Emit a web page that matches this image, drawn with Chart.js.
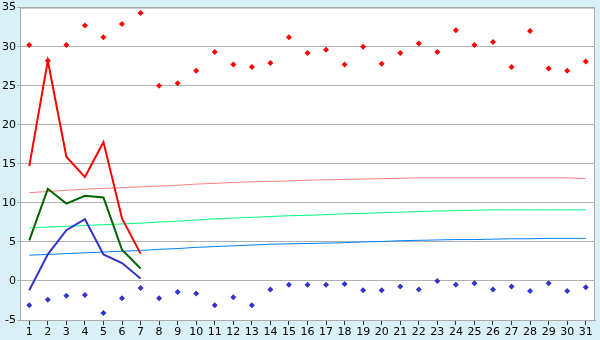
<!DOCTYPE html>
<html>
<head>
<meta charset="utf-8">
<script src="https://cdn.jsdelivr.net/npm/chart.js@4"></script>
<style>
  html, body { margin: 0; padding: 0; background: #d9f0f6; }
  #wrap { width: 600px; height: 340px; }
</style>
</head>
<body>
<div id="wrap"><canvas id="TempChart" width="600" height="340"></canvas></div>
<script>
var days = ['1','2','3','4','5','6','7','8','9','10','11','12','13','14','15','16','17','18','19','20','21','22','23','24','25','26','27','28','29','30','31'];

// daily extremes (points)
var maxPoints = [30.2, 28.2, 30.2, 32.7, 31.2, 32.9, 34.3, 25.0, 25.3, 26.9, 29.3, 27.7, 27.4, 27.9, 31.2, 29.2, 29.6, 27.7, 30.0, 27.8, 29.2, 30.4, 29.3, 32.1, 30.2, 30.6, 27.4, 32.0, 27.2, 26.9, 28.1];
var minPoints = [-3.1, -2.4, -1.9, -1.8, -4.1, -2.2, -0.9, -2.2, -1.4, -1.6, -3.1, -2.1, -3.1, -1.1, -0.5, -0.5, -0.5, -0.4, -1.2, -1.2, -0.7, -1.1, 0.0, -0.5, -0.3, -1.1, -0.7, -1.3, -0.3, -1.3, -0.8];

// this month so far
var maxLine = [14.7, 28.2, 15.9, 13.3, 17.8, 8.0, 3.5];
var meanLine = [5.2, 11.8, 9.9, 10.9, 10.7, 4.0, 1.6];
var minLine = [-1.2, 3.4, 6.5, 7.9, 3.4, 2.3, 0.3];

// normals
var maxNormal = [11.3, 11.45, 11.6, 11.75, 11.85, 11.95, 12.05, 12.15, 12.25, 12.4, 12.5, 12.6, 12.7, 12.75, 12.8, 12.9, 12.95, 13.0, 13.05, 13.1, 13.15, 13.2, 13.2, 13.2, 13.2, 13.2, 13.2, 13.2, 13.2, 13.2, 13.1];
var meanNormal = [6.8, 6.9, 7.0, 7.1, 7.2, 7.3, 7.4, 7.55, 7.65, 7.8, 7.95, 8.05, 8.15, 8.25, 8.35, 8.4, 8.5, 8.6, 8.65, 8.75, 8.8, 8.9, 8.95, 9.0, 9.05, 9.1, 9.1, 9.1, 9.1, 9.1, 9.1];
var minNormal = [3.3, 3.4, 3.5, 3.6, 3.7, 3.8, 3.9, 4.05, 4.15, 4.3, 4.4, 4.5, 4.6, 4.7, 4.75, 4.8, 4.85, 4.9, 5.0, 5.05, 5.15, 5.2, 5.25, 5.3, 5.3, 5.35, 5.4, 5.4, 5.45, 5.45, 5.45];

var yTicks = [-5, 0, 5, 10, 15, 20, 25, 30, 35];

var frame = {
    id: 'frame',
    beforeDraw: function (chart) {
        var c = chart.ctx, a = chart.chartArea;
        c.save();
        c.fillStyle = '#d9f0f6';
        c.fillRect(0, 0, chart.width, chart.height);
        c.fillStyle = '#ffffff';
        c.fillRect(a.left, a.top, a.right - a.left, a.bottom - a.top);
        c.restore();
    },
    afterDraw: function (chart) {
        var c = chart.ctx, a = chart.chartArea;
        c.save();
        c.strokeStyle = '#aaaaaa';
        c.lineWidth = 1;
        c.strokeRect(a.left + 0.5, a.top + 0.5, a.right - a.left - 1, a.bottom - a.top);
        c.restore();
    }
};

function thin(data, color) {
    return { data: data, borderColor: color, borderWidth: 1, pointRadius: 0, fill: false, order: 3 };
}
function thick(data, color) {
    return { data: data, borderColor: color, borderWidth: 2, pointRadius: 0, fill: false, order: 2 };
}
function dots(data, color) {
    return { data: data, borderColor: color, backgroundColor: color, showLine: false,
             pointStyle: 'rectRot', pointRadius: 3, borderWidth: 0, order: 1 };
}

var TempChart = new Chart(document.getElementById('TempChart'), {
    type: 'line',
    data: {
        labels: days,
        datasets: [
            dots(maxPoints, '#ff0000'),
            dots(minPoints, '#3333cc'),
            thick(maxLine, '#ff0000'),
            thick(meanLine, '#006400'),
            thick(minLine, '#3333cc'),
            thin(maxNormal, '#ff8080'),
            thin(meanNormal, '#00ff80'),
            thin(minNormal, '#0080ff')
        ]
    },
    options: {
        responsive: false,
        animation: false,
        layout: { padding: { top: 5, right: 5, left: 0, bottom: 0 } },
        plugins: { legend: { display: false }, tooltip: { enabled: false } },
        scales: {
            x: {
                offset: true,
                grid: { offset: false, drawOnChartArea: false, tickLength: 5, color: '#333333' },
                border: { color: '#aaaaaa' },
                ticks: { color: '#000000', padding: 1, maxRotation: 0, autoSkip: false,
                         font: { family: 'DejaVu Sans', size: 11 } },
                afterFit: function (s) { s.height = 20; }
            },
            y: {
                min: -5,
                max: 35,
                afterBuildTicks: function (s) { s.ticks = yTicks.map(function (v) { return { value: v }; }); },
                grid: { color: '#b0b0b0', tickLength: 3 },
                border: { color: '#aaaaaa' },
                ticks: { color: '#000000', padding: 1, font: { family: 'DejaVu Sans', size: 11 } },
                afterFit: function (s) { s.width = 20; }
            }
        }
    },
    plugins: [frame]
});
</script>
</body>
</html>
